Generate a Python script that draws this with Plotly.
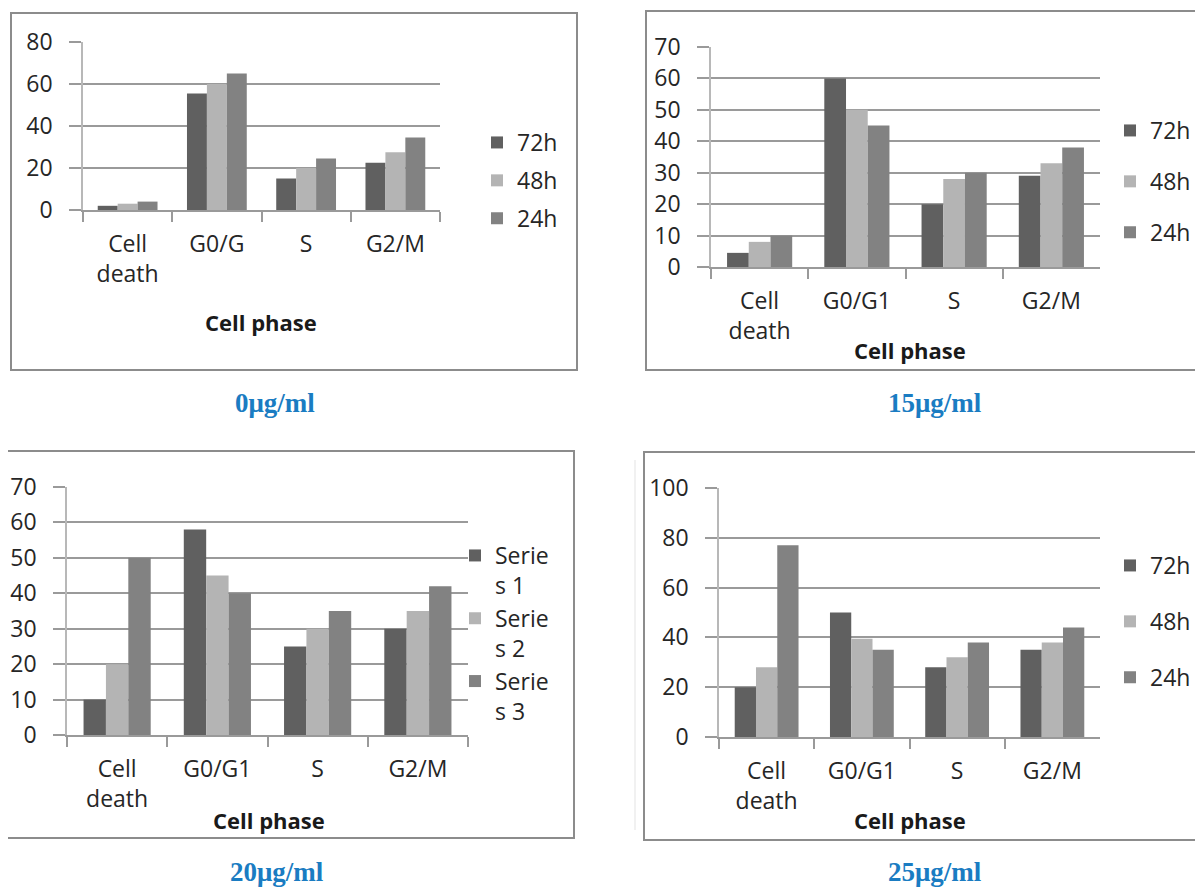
import plotly.graph_objects as go

# The page body has an 8px margin, so the figure is made 8px smaller and
# every reference pixel position is shifted by that margin.
PAGE_W, PAGE_H = 1203, 891
OFF = 8
W, H = PAGE_W - OFF, PAGE_H - OFF

# ---------------- data ----------------
categories_0 = ["Cell<br>death", "G0/G", "S", "G2/M"]
categories = ["Cell<br>death", "G0/G1", "S", "G2/M"]
series_names = ["72h", "48h", "24h"]
series_names_20 = ["Serie<br>s 1", "Serie<br>s 2", "Serie<br>s 3"]

# 0 µg/ml
d0_72h = [2, 55.5, 15, 22.5]
d0_48h = [3, 60, 20, 27.5]
d0_24h = [4, 65, 24.5, 34.5]
# 15 µg/ml
d15_72h = [4.5, 60, 20, 29]
d15_48h = [8, 50, 28, 33]
d15_24h = [10, 45, 30, 38]
# 20 µg/ml
d20_s1 = [10, 58, 25, 30]
d20_s2 = [20, 45, 30, 35]
d20_s3 = [50, 40, 35, 42]
# 25 µg/ml
d25_72h = [20, 50, 28, 35]
d25_48h = [28, 39.5, 32, 38]
d25_24h = [77, 35, 38, 44]

captions = ["0μg/ml", "15μg/ml", "20μg/ml", "25μg/ml"]
x_title = "Cell phase"

colors = ["#606060", "#b4b4b4", "#828282"]
GRID = "#9a9a9a"
FONT = "Open Sans, Lato, sans-serif"
TXT = "#262626"


def px_x(v):
    return (v - OFF) / W


def px_y(v):
    return 1 - (v - OFF) / H


panels = [
    dict(cats=categories_0, names=series_names, vals=[d0_72h, d0_48h, d0_24h],
         xd=(83, 440), yd=(42, 210), ymax=80, dtick=20,
         leg=(477, 121), gap=5, box=(11, 13, 577, 370),
         title_pos=(261, 322), cap_pos=(275, 403)),
    dict(cats=categories, names=series_names, vals=[d15_72h, d15_48h, d15_24h],
         xd=(711, 1100), yd=(47, 267), ymax=70, dtick=10,
         leg=(1110, 109), gap=18, box=(646, 11, 1215, 370),
         title_pos=(910, 350), cap_pos=(935, 403)),
    dict(cats=categories, names=series_names_20, vals=[d20_s1, d20_s2, d20_s3],
         xd=(67, 468), yd=(487, 735), ymax=70, dtick=10,
         leg=(455, 534), gap=0, box=(7, 451, 574, 838),
         title_pos=(269, 820), cap_pos=(277, 872)),
    dict(cats=categories, names=series_names, vals=[d25_72h, d25_48h, d25_24h],
         xd=(719, 1100), yd=(488, 737), ymax=100, dtick=20,
         leg=(1110, 544), gap=23, box=(644, 452, 1215, 840),
         title_pos=(910, 820), cap_pos=(935, 872)),
]

fig = go.Figure()
layout_updates = {}
shapes = []
annotations = []

for i, p in enumerate(panels):
    n = i + 1
    xa = "x" if n == 1 else f"x{n}"
    ya = "y" if n == 1 else f"y{n}"
    lg = "legend" if n == 1 else f"legend{n}"
    for k in range(3):
        fig.add_trace(go.Bar(
            x=p["cats"], y=p["vals"][k], name=p["names"][k],
            marker=dict(color=colors[k], line=dict(width=0)),
            xaxis=xa, yaxis=ya, legend=lg, legendgroup=f"g{n}_{k}",
            hoverinfo="y",
        ))
    xkey = "xaxis" if n == 1 else f"xaxis{n}"
    ykey = "yaxis" if n == 1 else f"yaxis{n}"
    layout_updates[xkey] = dict(
        domain=[px_x(p["xd"][0]), px_x(p["xd"][1])], anchor=ya,
        type="category", showline=True, linecolor=GRID, linewidth=2,
        ticks="outside", tickson="boundaries", ticklen=10, tickcolor=GRID,
        tickwidth=1.5, showgrid=False, ticklabelstandoff=12,
        tickfont=dict(family=FONT, size=23, color=TXT),
        automargin=False, fixedrange=True,
    )
    layout_updates[ykey] = dict(
        domain=[px_y(p["yd"][1]), px_y(p["yd"][0])], anchor=xa,
        range=[0, p["ymax"]], dtick=p["dtick"], showgrid=True,
        gridcolor=GRID, gridwidth=2, showline=True, linecolor="#b8b8b8",
        linewidth=1.5, ticks="outside", ticklen=12, tickcolor=GRID,
        tickwidth=2, ticklabelstandoff=12, zeroline=False,
        tickfont=dict(family=FONT, size=23, color=TXT),
        automargin=False, fixedrange=True,
    )
    layout_updates[lg] = dict(
        x=px_x(p["leg"][0]), y=px_y(p["leg"][1]), xanchor="left",
        yanchor="top", bgcolor="rgba(0,0,0,0)", borderwidth=0,
        font=dict(family=FONT, size=23, color=TXT),
        tracegroupgap=p["gap"], traceorder="grouped", valign="top",
        itemclick=False, itemdoubleclick=False,
    )
    bx0, by0, bx1, by1 = p["box"]
    shapes.append(dict(type="rect", xref="paper", yref="paper",
                       x0=px_x(bx0), x1=px_x(bx1), y0=px_y(by1), y1=px_y(by0),
                       line=dict(color="#8c8c8c", width=2),
                       fillcolor="rgba(0,0,0,0)", layer="below"))
    annotations.append(dict(text=f"<b>{x_title}</b>", xref="paper", yref="paper",
                            x=px_x(p["title_pos"][0]), y=px_y(p["title_pos"][1]),
                            xanchor="center", yanchor="middle", showarrow=False,
                            font=dict(family=FONT, size=22, color="#1a1a1a")))
    annotations.append(dict(text=f"<b>{captions[i]}</b>", xref="paper", yref="paper",
                            x=px_x(p["cap_pos"][0]), y=px_y(p["cap_pos"][1]),
                            xanchor="center", yanchor="middle", showarrow=False,
                            borderpad=0,
                            font=dict(family="Liberation Serif, Times New Roman, serif",
                                      size=27, color="#1a7cc2")))

# faint edge line left of the bottom-right chart
shapes.append(dict(type="line", xref="paper", yref="paper",
                   x0=px_x(635), x1=px_x(635), y0=px_y(830), y1=px_y(460),
                   line=dict(color="#ececec", width=1.5)))

fig.update_layout(
    width=W, height=H, margin=dict(l=0, r=0, t=0, b=0, autoexpand=False),
    paper_bgcolor="white", plot_bgcolor="white",
    barmode="group", bargap=0.33, bargroupgap=0,
    showlegend=True, shapes=shapes, annotations=annotations,
    **layout_updates,
)

fig.write_html("out.html")
